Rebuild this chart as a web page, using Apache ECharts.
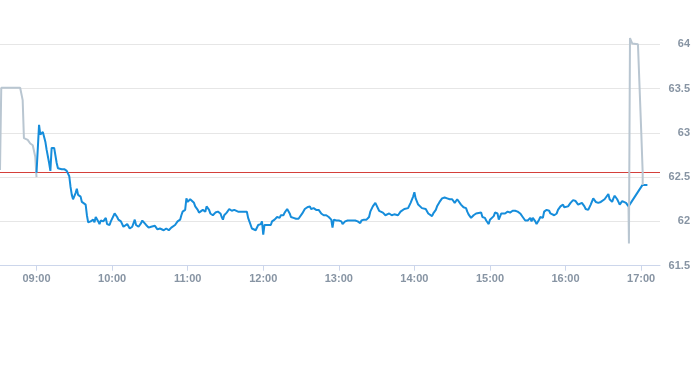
<!DOCTYPE html>
<html><head><meta charset="utf-8">
<script src="https://cdn.jsdelivr.net/npm/echarts@6/dist/echarts.min.js"></script>
<style>html,body{margin:0;padding:0;background:#fff}#c{width:693px;height:365px}</style>
</head><body><div id="c"></div>
<script>
// ---- data ----
const xTickLabels = ['09:00','10:00','11:00','12:00','13:00','14:00','15:00','16:00','17:00'];
const axisStart = '08:31';
const axisEnd = '17:15';
const yMin = 61.5, yMax = 64, yStep = 0.5;
const prevClose = 62.565;
const sessionOpen = '09:00';

// pre-market (grey)
const preTimes  = ['08:31','08:32','08:47','08:49','08:50','08:53','08:55','08:57','08:59','09:00'];
const preValues = [62.58, 63.51, 63.51, 63.37, 62.94, 62.92, 62.88, 62.86, 62.73, 62.50];

// regular session (blue): minutes after session open
const sessionMinutes = [0,2,3,5,7,8,10,11,12,13,14,16,17,18,20,22,24,25,26,27,28,29,31,32,33,35,36,37,39,40,41,43,45,46,47,49,50,51,53,55,56,58,59,60,
62,64,65,67,69,70,72,74,76,78,79,81,83,84,85,87,89,91,92,94,96,98,99,101,103,105,107,108,110,112,114,115,116,118,119,120,
122,123,125,126,128,129,130,132,134,135,137,138,140,142,144,146,147,148,149,151,153,155,157,158,160,167,168,169,171,172,174,176,178,179,180,
181,182,184,186,187,189,191,193,194,196,197,199,201,202,204,206,208,209,211,213,214,215,217,218,220,222,224,225,226,228,230,232,233,234,235,236,238,240,
242,243,245,247,249,250,253,255,257,258,260,262,264,265,267,269,270,272,273,275,277,278,280,282,284,285,287,289,292,293,295,297,299,300,
301,303,304,306,307,309,311,312,314,315,317,318,320,322,324,326,328,330,331,332,334,335,337,339,341,342,343,345,347,349,350,353,354,356,357,359,360,
363,364,366,367,369,370,372,374,376,378,380,382,384,386,388,390,392,393,394,396,397,399,400,402,403,405,407,408,409,411,413,414,416,418,419,420,
422,424,425,426,428,430,431,433,435,436,438,440,442,443,444,446,448,449,451,452,454,455,457,458,459,461,462,463,465,466,468,470,481,485];
const sessionValues = [62.55,63.09,62.98,63.01,62.90,62.81,62.66,62.57,62.83,62.84,62.83,62.66,62.60,62.61,62.59,62.59,62.57,62.56,62.51,62.39,62.30,62.25,62.32,62.37,62.30,62.28,62.22,62.24,62.19,62.07,61.99,62.00,62.02,61.99,62.05,62.00,61.97,62.01,62.00,62.04,61.97,61.96,62.00,61.99,
62.09,62.05,62.02,62.00,61.94,61.96,61.97,61.92,61.94,62.02,61.96,61.94,61.98,62.01,62.00,61.96,61.93,61.94,61.92,61.95,61.91,61.92,61.90,61.90,61.92,61.90,61.93,61.95,61.96,62.00,62.02,62.07,62.11,62.13,62.26,62.22,
62.25,62.26,62.21,62.17,62.13,62.10,62.11,62.13,62.11,62.17,62.13,62.09,62.07,62.10,62.11,62.09,62.05,62.02,62.07,62.10,62.14,62.12,62.13,62.11,62.11,62.11,62.04,62.00,61.92,61.91,61.90,61.96,61.97,62.00,61.85,
61.96,61.94,61.96,61.96,62.00,62.02,62.05,62.04,62.07,62.07,62.10,62.14,62.09,62.05,62.04,62.03,62.03,62.05,62.09,62.14,62.16,62.16,62.17,62.14,62.15,62.13,62.13,62.14,62.09,62.07,62.07,62.05,62.04,62.02,61.93,62.02,62.01,62.01,
62.00,61.97,62.00,62.01,62.01,62.02,62.01,62.00,61.98,62.01,62.02,62.02,62.05,62.11,62.17,62.21,62.19,62.12,62.11,62.10,62.07,62.05,62.09,62.07,62.08,62.09,62.07,62.11,62.14,62.15,62.15,62.21,62.28,62.33,
62.26,62.19,62.17,62.15,62.13,62.14,62.09,62.07,62.06,62.09,62.13,62.17,62.22,62.26,62.27,62.26,62.25,62.25,62.23,62.21,62.25,62.23,62.19,62.16,62.15,62.11,62.08,62.04,62.07,62.09,62.07,62.10,62.05,62.04,62.01,61.97,62.02,
62.06,62.10,62.09,62.02,62.09,62.10,62.09,62.11,62.10,62.12,62.12,62.11,62.09,62.05,62.01,62.01,62.04,62.00,62.04,62.00,61.97,62.02,62.05,62.04,62.11,62.13,62.12,62.09,62.09,62.07,62.09,62.13,62.17,62.19,62.16,62.17,
62.17,62.21,62.21,62.24,62.23,62.19,62.21,62.21,62.17,62.14,62.13,62.19,62.26,62.25,62.22,62.21,62.22,62.21,62.25,62.26,62.31,62.25,62.22,62.26,62.29,62.25,62.22,62.19,62.23,62.21,62.21,62.17,62.41,62.41];

// post-market (grey)
const postTimes  = ['16:50:00','16:50:20','16:51:10','16:52:55','16:57:30','17:00:05','17:01:15','17:01:15'];
const postValues = [62.17, 61.75, 64.07, 64.01, 64.00, 63.02, 62.55, 62.41];

// ---- helpers ----
function toMin(s){ const p = s.split(':').map(Number); return p[0]*60 + p[1] + (p[2]||0)/60; }
function fmt(m){ const h = Math.floor(m/60), mm = Math.round(m - h*60); return String(h).padStart(2,'0')+':'+String(mm).padStart(2,'0'); }
const openMin = toMin(sessionOpen);
const preData = preTimes.map((t,i)=>[toMin(t), preValues[i]]);
const sessionData = sessionMinutes.map((m,i)=>[openMin + m, sessionValues[i]]);
const postData = postTimes.map((t,i)=>[toMin(t), postValues[i]]);
const tickVals = xTickLabels.map(toMin);

const labelColor = '#8794a3';
const font = 'Liberation Sans, Arial, sans-serif';
const chart = echarts.init(document.getElementById('c'), null, {renderer:'canvas'});
chart.setOption({
  animation: false,
  grid: {left: 0, right: 30, top: 44.3, bottom: 99.3, containLabel: false},
  xAxis: {
    type: 'value', min: toMin(axisStart), max: toMin(axisEnd),
    axisLine: {show: true, lineStyle: {color: '#ccd6eb', width: 1}},
    axisTick: {show: true, length: 5, customValues: tickVals, lineStyle: {color: '#ccd6eb'}},
    axisLabel: {customValues: tickVals, formatter: v => fmt(v), color: labelColor, fontSize: 11, fontWeight: 'bold', margin: 8, fontFamily: font},
    splitLine: {show: false}
  },
  yAxis: {
    type: 'value', position: 'right', min: yMin, max: yMax, interval: yStep,
    axisLine: {show: false}, axisTick: {show: false},
    axisLabel: {align: 'right', margin: 30, color: labelColor, fontSize: 11, fontWeight: 'bold', fontFamily: font},
    splitLine: {lineStyle: {color: '#e6e6e6', width: 1}}
  },
  series: [
    {type: 'line', data: preData, symbol: 'none', clip: false, lineStyle: {color: '#b9c6d1', width: 2}, z: 3},
    {type: 'line', data: sessionData, symbol: 'none', clip: false, lineStyle: {color: '#168ddb', width: 2}, z: 4,
      markLine: {silent: true, symbol: 'none', label: {show: false}, lineStyle: {color: '#d43f3a', width: 1, type: 'solid'}, data: [{yAxis: prevClose}], z: 2}},
    {type: 'line', data: postData, symbol: 'none', clip: false, lineStyle: {color: '#b9c6d1', width: 2}, z: 5}
  ]
});
</script></body></html>
